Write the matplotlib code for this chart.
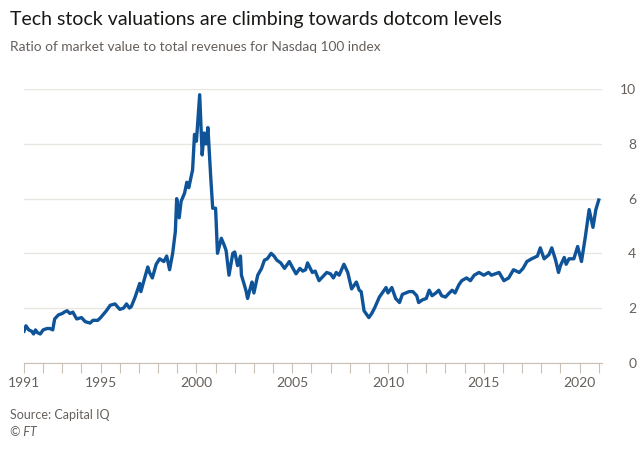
import matplotlib
matplotlib.use("Agg")
import matplotlib.pyplot as plt
import numpy as np

# Decimal-year dates and price/sales ratio values
dates = [
    1991.0, 1991.1, 1991.25, 1991.4, 1991.5, 1991.6, 1991.7, 1991.85, 1992.0, 1992.2, 1992.35, 1992.5,
    1992.6, 1992.8, 1993.0, 1993.1, 1993.25, 1993.4, 1993.55, 1993.75, 1994.0, 1994.2, 1994.45,
    1994.6, 1994.85, 1995.0, 1995.3, 1995.5, 1995.75, 1996.0, 1996.2, 1996.35, 1996.5, 1996.6,
    1996.8, 1997.04, 1997.1, 1997.3, 1997.46, 1997.55, 1997.7, 1997.9, 1998.08, 1998.3, 1998.45,
    1998.6, 1998.76, 1998.9, 1998.97, 1999.1, 1999.2, 1999.38, 1999.5, 1999.6, 1999.8, 1999.9,
    2000.0, 2000.17, 2000.3, 2000.4, 2000.5, 2000.6, 2000.75, 2000.85, 2001.0, 2001.1, 2001.3,
    2001.45, 2001.55, 2001.7, 2001.9, 2002.0, 2002.15, 2002.3, 2002.35, 2002.5, 2002.6, 2002.67,
    2002.8, 2002.9, 2003.0, 2003.2, 2003.4, 2003.55, 2003.7, 2003.9, 2004.05, 2004.2, 2004.4,
    2004.6, 2004.85, 2005.0, 2005.2, 2005.4, 2005.55, 2005.7, 2005.8, 2006.05, 2006.2, 2006.4,
    2006.6, 2006.8, 2007.0, 2007.15, 2007.3, 2007.45, 2007.7, 2007.9, 2008.1, 2008.35, 2008.5,
    2008.6, 2008.75, 2008.9, 2009.0, 2009.15, 2009.3, 2009.55, 2009.75, 2009.9, 2010.0, 2010.2,
    2010.4, 2010.6, 2010.75, 2011.1, 2011.3, 2011.5, 2011.6, 2011.8, 2012.0, 2012.15, 2012.3,
    2012.5, 2012.65, 2012.8, 2013.0, 2013.2, 2013.35, 2013.5, 2013.7, 2013.85, 2014.1, 2014.3,
    2014.5, 2014.75, 2015.0, 2015.25, 2015.4, 2015.6, 2015.8, 2016.05, 2016.3, 2016.55, 2016.85,
    2017.05, 2017.25, 2017.5, 2017.8, 2017.95, 2018.15, 2018.4, 2018.55, 2018.75, 2018.9, 2019.0,
    2019.2, 2019.3, 2019.45, 2019.7, 2019.9, 2020.1, 2020.3, 2020.5, 2020.7, 2020.85, 2021.0,
]
ratio = [
    1.15, 1.35, 1.2, 1.15, 1.05, 1.2, 1.1, 1.05, 1.2, 1.25, 1.25, 1.2,
    1.6, 1.75, 1.8, 1.85, 1.9, 1.8, 1.85, 1.6, 1.65, 1.5, 1.45,
    1.55, 1.55, 1.65, 1.9, 2.1, 2.15, 1.95, 2.0, 2.15, 2.0, 2.05,
    2.4, 2.9, 2.6, 3.1, 3.5, 3.3, 3.1, 3.6, 3.8, 3.7, 3.9,
    3.4, 4.0, 4.8, 6.0, 5.3, 5.9, 6.2, 6.6, 6.4, 7.05, 8.35,
    8.1, 9.8, 7.6, 8.4, 8.0, 8.6, 6.75, 5.65, 5.65, 4.0, 4.55,
    4.3, 4.1, 3.2, 4.0, 4.05, 3.55, 3.9, 3.2, 2.85, 2.6, 2.35,
    2.7, 2.95, 2.55, 3.2, 3.45, 3.75, 3.8, 4.0, 3.9, 3.75, 3.65,
    3.45, 3.7, 3.5, 3.25, 3.45, 3.35, 3.4, 3.65, 3.3, 3.35, 3.0,
    3.15, 3.3, 3.25, 3.1, 3.3, 3.2, 3.6, 3.3, 2.7, 2.95, 2.65,
    2.6, 1.9, 1.75, 1.65, 1.8, 2.0, 2.4, 2.6, 2.75, 2.55, 2.75,
    2.35, 2.2, 2.5, 2.6, 2.6, 2.45, 2.2, 2.3, 2.35, 2.65, 2.45,
    2.55, 2.65, 2.45, 2.4, 2.55, 2.65, 2.55, 2.85, 3.0, 3.1, 3.0,
    3.2, 3.3, 3.2, 3.3, 3.2, 3.25, 3.3, 3.0, 3.1, 3.4, 3.3,
    3.45, 3.7, 3.8, 3.9, 4.2, 3.8, 3.95, 4.2, 3.75, 3.3, 3.55,
    3.85, 3.6, 3.8, 3.8, 4.25, 3.7, 4.6, 5.6, 4.95, 5.6, 5.95,
]
year_labels = [1991, 1995, 2000, 2005, 2010, 2015, 2020]
y_ticks = [0, 2, 4, 6, 8, 10]

title = "Tech stock valuations are climbing towards dotcom levels"
subtitle = "Ratio of market value to total revenues for Nasdaq 100 index"
source = "Source: Capital IQ"
credit = "© FT"

plt.rcParams['font.family'] = ['Lato', 'DejaVu Sans']

fig = plt.figure(figsize=(6.4, 4.5), dpi=100)
fig.patch.set_facecolor('white')
ax = fig.add_axes([0.0375, 0.194, 0.9025, 0.6076])

ax.plot(dates, ratio, color='#0f5499', lw=2.4, solid_joinstyle='round', zorder=3)

ax.set_xlim(1991, 2021.15)
ax.set_ylim(0, 10)
ax.set_yticks(y_ticks)
ax.set_yticklabels([str(v) for v in y_ticks])
ax.yaxis.tick_right()
ax.tick_params(axis='y', length=0, pad=25, labelsize=10, labelcolor='#66605c')
for lab in ax.get_yticklabels():
    lab.set_horizontalalignment('right')
ax.grid(axis='y', color='#e9e6e1', lw=1)
ax.set_axisbelow(True)

ax.set_xticks(list(range(1991, 2022)), minor=True)
ax.set_xticks(year_labels)
ax.set_xticklabels([str(y) for y in year_labels])
ax.tick_params(axis='x', which='both', length=7, width=0.8, color='#ccc1b7',
               labelsize=10, labelcolor='#66605c', pad=3)

for s in ['top', 'left', 'right']:
    ax.spines[s].set_visible(False)
ax.spines['bottom'].set_color('#ccc1b7')
ax.spines['bottom'].set_linewidth(0.8)

fig.text(10/640, 1-20/450, title, fontsize=14, color='#1a1817', va='center', ha='left')
fig.text(10/640, 1-47/450, subtitle, fontsize=9.9, color='#66605c', va='center', ha='left')
fig.text(10/640, 1-415/450, source, fontsize=9, color='#66605c', va='center', ha='left')
fig.text(10/640, 1-432/450, credit, fontsize=9, color='#66605c', va='center', ha='left', style='italic')

fig.savefig('out.png', dpi=100, facecolor='white')
